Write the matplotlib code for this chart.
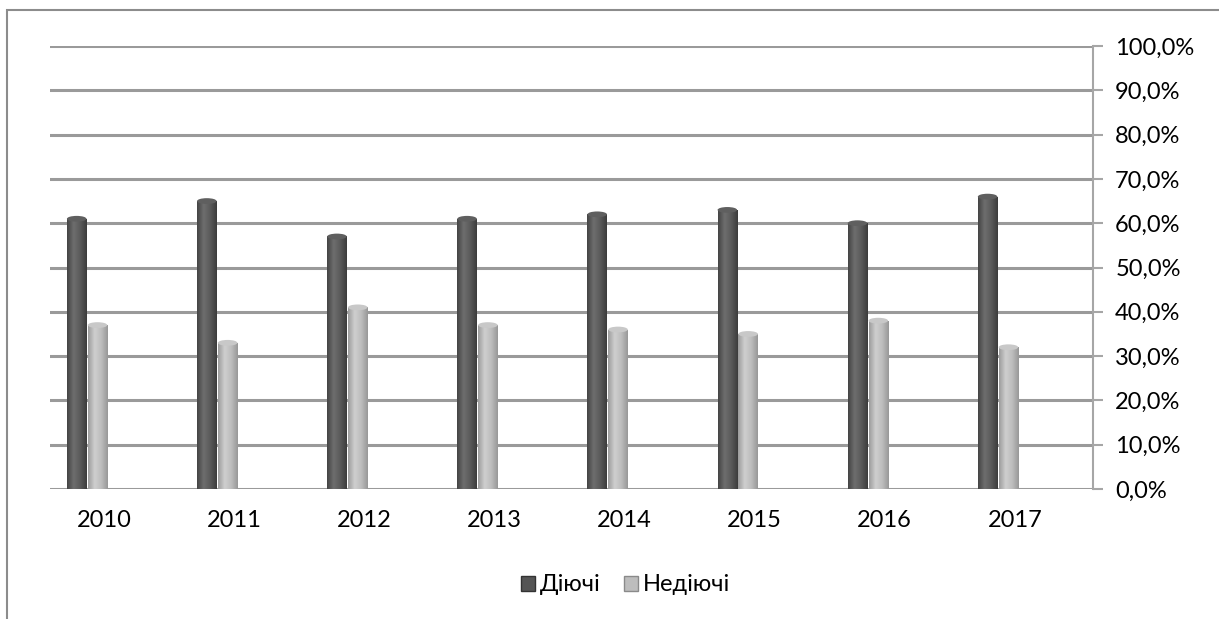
import numpy as np
import matplotlib.pyplot as plt
from matplotlib.patches import Rectangle, Ellipse
from matplotlib.colors import LinearSegmentedColormap

plt.rcParams['font.family'] = ['Lato', 'DejaVu Sans']

years = ['2010', '2011', '2012', '2013', '2014', '2015', '2016', '2017']
active = [61, 65, 57, 61, 62, 63, 60, 66]
inactive = [37, 33, 41, 37, 36, 35, 38, 32]
series_names = ['Діючі', 'Недіючі']
yticks = [0, 10, 20, 30, 40, 50, 60, 70, 80, 90, 100]

W, H = 1219, 619
fig = plt.figure(figsize=(W / 100, H / 100), dpi=100)

# outer chart frame (runs off the right and bottom edges)
fig.patches.append(Rectangle((7 / W, -0.1), 1.2, 1 - 10 / H + 0.1,
                             transform=fig.transFigure, fill=False,
                             edgecolor='#8c8c8c', linewidth=1.5))

ax = fig.add_axes([50 / W, 1 - 489 / H, (1093 - 50) / W, (489 - 46) / H])
x = np.arange(len(years))

for s in ['top', 'left', 'bottom']:
    ax.spines[s].set_visible(False)
ax.spines['right'].set_color('#a6a6a6')
ax.spines['right'].set_linewidth(1.5)

for t in yticks:
    ax.axhline(t, color='#9a9a9a', linewidth=2.2, zorder=1)

dark_cmap = LinearSegmentedColormap.from_list('d', ['#444444', '#6e6e6e', '#5a5a5a', '#3c3c3c'])
light_cmap = LinearSegmentedColormap.from_list('l', ['#9c9c9c', '#cfcfcf', '#bdbdbd', '#989898'])
grad = np.linspace(0, 1, 64).reshape(1, -1)

bw = 0.15
cap_h = 1.3


def draw_bars(xs, vals, cmap, top_color):
    for xi, v in zip(xs, vals):
        x0, x1 = xi - bw / 2, xi + bw / 2
        im = ax.imshow(grad, cmap=cmap, extent=[x0, x1, 0, v], aspect='auto',
                       zorder=3, interpolation='bilinear')
        rect = Rectangle((x0, 0), bw, v, facecolor='none', edgecolor='none')
        ax.add_patch(rect)
        im.set_clip_path(rect)
        ax.add_patch(Ellipse((xi, v), bw, cap_h, facecolor=top_color,
                             edgecolor='none', zorder=4))


draw_bars(x - 0.21, active, dark_cmap, '#5f5f5f')
draw_bars(x - 0.05, inactive, light_cmap, '#c8c8c8')
ax.set_xlim(-0.415, 7.6)
ax.set_ylim(0, 100)

ax.set_xticks(x)
ax.set_xticklabels(years, fontsize=17)
ax.tick_params(axis='x', length=0, pad=15)
ax.yaxis.tick_right()
ax.set_yticks(yticks)
ax.set_yticklabels([f'{t},0%' for t in yticks], fontsize=17)
ax.tick_params(axis='y', right=True, length=7, width=1.5, color='#a6a6a6', pad=9)

handles = [Rectangle((0, 0), 1, 1, facecolor='#555555', edgecolor='#333333'),
           Rectangle((0, 0), 1, 1, facecolor='#bdbdbd', edgecolor='#8a8a8a')]
fig.legend(handles, series_names, loc='center', bbox_to_anchor=(0.513, 0.055),
           ncol=2, frameon=False, fontsize=17, handlelength=0.6, handleheight=0.6,
           handletextpad=0.2, columnspacing=1.0)

fig.savefig('out.png', dpi=100)
